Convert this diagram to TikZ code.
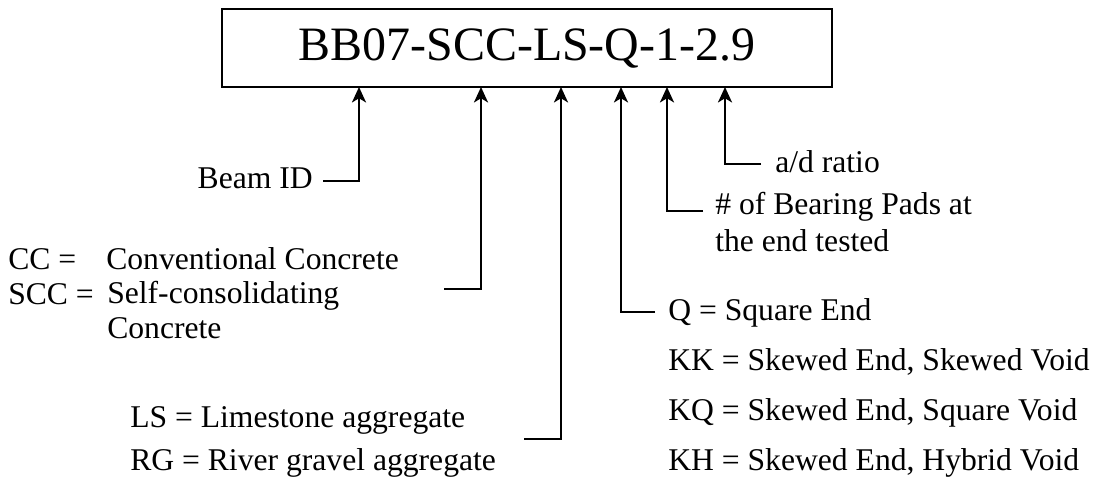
\documentclass[tikz,border=0pt]{standalone}
\usepackage{fontspec}
\setmainfont{Liberation Serif}
\usetikzlibrary{arrows.meta,calc}

\begin{document}
\begin{tikzpicture}[>={Stealth[length=11pt,width=10pt,inset=3pt]},
  conn/.style={line width=1.4pt, ->},
  lbl/.style={inner sep=0pt, font=\fontsize{22.5}{25}\selectfont}]
  \useasboundingbox (0,0) rectangle (27.55,12.175);

  % Code box
  \node[draw, line width=1.4pt, minimum width=15.25cm, minimum height=1.95cm, inner sep=0pt,
        font=\fontsize{34.1}{40}\selectfont] (code) at (13.175,10.975) {BB07-SCC-LS-Q-1-2.9};

  % Arrow tips on the box
  \coordinate (tipID) at (8.975,10);
  \coordinate (tipConc) at (12.025,10);
  \coordinate (tipAgg) at (14.025,10);
  \coordinate (tipEnd) at (15.525,10);
  \coordinate (tipPads) at (16.675,10);
  \coordinate (tipRatio) at (18.125,10);

  % Labels
  \node[lbl, anchor=base east] (beam) at (7.825,7.45) {Beam ID};
  \node[lbl, anchor=base west] (ratio) at (19.375,7.85) {a/d ratio};
  \node[lbl, anchor=base west, align=left, font=\fontsize{22.5}{26.3}\selectfont] (pads) at (17.875,5.9) {\# of Bearing Pads at\\the end tested};

  \node[lbl, anchor=base west] (ccKey) at (0.2,5.45) {CC =};
  \node[lbl, anchor=base west] (ccText) at (2.65,5.45) {Conventional Concrete};
  \node[lbl, anchor=base west] (sccKey) at (0.2,4.575) {SCC =};
  \node[lbl, anchor=base west, align=left, font=\fontsize{22.5}{24.2}\selectfont] (sccText) at (2.675,3.725) {Self-consolidating\\Concrete};

  \node[lbl, anchor=base west] (ls) at (3.25,1.5) {LS = Limestone aggregate};
  \node[lbl, anchor=base west] (rg) at (3.25,0.425) {RG = River gravel aggregate};

  \node[lbl, anchor=base west] (sq) at (16.7,4.175) {Q = Square End};
  \node[lbl, anchor=base west] (kk) at (16.7,2.925) {KK = Skewed End, Skewed Void};
  \node[lbl, anchor=base west] (kq) at (16.7,1.675) {KQ = Skewed End, Square Void};
  \node[lbl, anchor=base west] (kh) at (16.7,0.425) {KH = Skewed End, Hybrid Void};

  % Free ends of the two long leaders
  \coordinate (concEnd) at (11.1,4.95);
  \coordinate (aggEnd) at (13.1,1.2);

  % Leaders
  \draw[conn] ([shift={(0.25,0.2)}]beam.base east) -| (tipID);
  \draw[conn] (concEnd) -| (tipConc);
  \draw[conn] (aggEnd) -| (tipAgg);
  \draw[conn] ([shift={(-0.325,0.2)}]sq.base west) -| (tipEnd);
  \draw[conn] ([shift={(-0.3,1.0)}]pads.base west) -| (tipPads);
  \draw[conn] ([shift={(-0.35,0.225)}]ratio.base west) -| (tipRatio);
\end{tikzpicture}
\end{document}
